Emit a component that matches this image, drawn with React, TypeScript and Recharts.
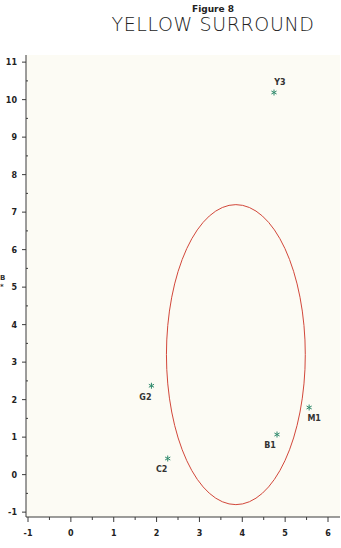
import React from 'react';
import {
  ScatterChart,
  Scatter,
  XAxis,
  YAxis,
  ReferenceArea,
} from 'recharts';

// sample positions
const names = ['Y3', 'G2', 'C2', 'B1', 'M1'];
const xValues = [4.74, 1.88, 2.26, 4.81, 5.56];
const yValues = [10.19, 2.37, 0.43, 1.07, 1.79];

// bounding box of the ellipse, in data units
const ellipseX = [2.23, 5.47];
const ellipseY = [-0.8, 7.2];

const xTicks = [-1, -0.5, 0, 0.5, 1, 1.5, 2, 2.5, 3, 3.5, 4, 4.5, 5, 5.5, 6];
const yTicks = [
  -1, -0.5, 0, 0.5, 1, 1.5, 2, 2.5, 3, 3.5, 4, 4.5, 5, 5.5, 6, 6.5, 7, 7.5, 8,
  8.5, 9, 9.5, 10, 10.5, 11,
];

const points = names.map((name, i) => ({ name, x: xValues[i], y: yValues[i] }));

const labelOffsets: Record<string, [number, number]> = {
  Y3: [6, -8],
  G2: [-6, 14],
  C2: [-6, 13],
  B1: [-7, 13],
  M1: [5, 13],
};

const AXIS = '#3a3a3a';
const STAR = '#2f8a6c';
const tickFont = { fontFamily: 'DejaVu Sans', fontWeight: 700, fontSize: 8 };

const YTick = (props: any) => {
  const { x, y, payload } = props;
  const major = Number.isInteger(payload.value);
  return (
    <g>
      {major ? (
        <line x1={x - 4} x2={x} y1={y} y2={y} stroke={AXIS} />
      ) : (
        <line x1={x} x2={x + 2} y1={y} y2={y} stroke={AXIS} />
      )}
      {major && (
        <text x={x - 9} y={y + 3} textAnchor="end" fill="#222" {...tickFont}>
          {payload.value}
        </text>
      )}
    </g>
  );
};

const XTick = (props: any) => {
  const { x, y, payload } = props;
  const major = Number.isInteger(payload.value);
  return (
    <g>
      <line x1={x} x2={x} y1={y} y2={y + (major ? 5 : 3)} stroke={AXIS} />
      {major && (
        <text x={x} y={y + 19} textAnchor="middle" fill="#222" {...tickFont}>
          {payload.value}
        </text>
      )}
    </g>
  );
};

const StarShape = (props: any) => {
  const { cx, cy, payload } = props;
  const [dx, dy] = labelOffsets[payload.name] || [0, 12];
  const r = 3;
  return (
    <g>
      <line x1={cx} x2={cx} y1={cy - r} y2={cy + r} stroke={STAR} />
      <line x1={cx - 2.6} x2={cx + 2.6} y1={cy - 1.5} y2={cy + 1.5} stroke={STAR} />
      <line x1={cx - 2.6} x2={cx + 2.6} y1={cy + 1.5} y2={cy - 1.5} stroke={STAR} />
      <text x={cx + dx} y={cy + dy} textAnchor="middle" fill="#333" {...tickFont}>
        {payload.name}
      </text>
    </g>
  );
};

const EllipseShape = (props: any) => {
  const { x, y, width, height } = props;
  return (
    <ellipse
      cx={x + width / 2}
      cy={y + height / 2}
      rx={width / 2}
      ry={height / 2}
      fill="none"
      stroke="#d2473a"
      strokeWidth={1}
    />
  );
};

export default function App() {
  return (
    <div
      style={{
        position: 'absolute',
        left: 0,
        top: 0,
        width: 341,
        height: 548,
        background: '#fff',
      }}
    >
      <div
        style={{
          position: 'absolute',
          left: 0,
          width: 426,
          top: 4,
          textAlign: 'center',
          fontFamily: 'DejaVu Sans',
          fontWeight: 600,
          fontSize: 9,
          color: '#222',
        }}
      >
        Figure 8
      </div>
      <div
        style={{
          position: 'absolute',
          left: 0,
          width: 426,
          top: 13,
          textAlign: 'center',
          fontFamily: 'DejaVu Sans',
          fontWeight: 200,
          fontSize: 19,
          letterSpacing: 0.6,
          color: '#222',
        }}
      >
        YELLOW SURROUND
      </div>
      <div
        style={{
          position: 'absolute',
          left: 0,
          top: 274,
          fontFamily: 'DejaVu Sans',
          fontWeight: 700,
          fontSize: 7,
          lineHeight: '9px',
          color: '#333',
        }}
      >
        B
        <br />*
      </div>
      <div style={{ position: 'absolute', left: 0, top: 0 }}>
        <ScatterChart
          width={341}
          height={548}
          margin={{ top: 55, right: 1, bottom: 0, left: 0 }}
        >
          <rect x={26} y={55} width={314} height={462} fill="#fcfbf4" />
          <XAxis
            type="number"
            dataKey="x"
            domain={[-1.047, 6.28]}
            ticks={xTicks}
            allowDataOverflow
            height={31}
            stroke={AXIS}
            tickLine={false}
            tickSize={0}
            tickMargin={0}
            tick={<XTick />}
            interval={0}
          />
          <YAxis
            type="number"
            dataKey="y"
            domain={[-1.13, 11.19]}
            ticks={yTicks}
            allowDataOverflow
            width={26}
            stroke={AXIS}
            tickLine={false}
            tickSize={0}
            tickMargin={0}
            tick={<YTick />}
            interval={0}
          />
          <ReferenceArea
            x1={ellipseX[0]}
            x2={ellipseX[1]}
            y1={ellipseY[0]}
            y2={ellipseY[1]}
            shape={(p: any) => <EllipseShape {...p} />}
            ifOverflow="visible"
          />
          <Scatter
            data={points}
            isAnimationActive={false}
            shape={(p: any) => <StarShape {...p} />}
          />
        </ScatterChart>
      </div>
    </div>
  );
}
